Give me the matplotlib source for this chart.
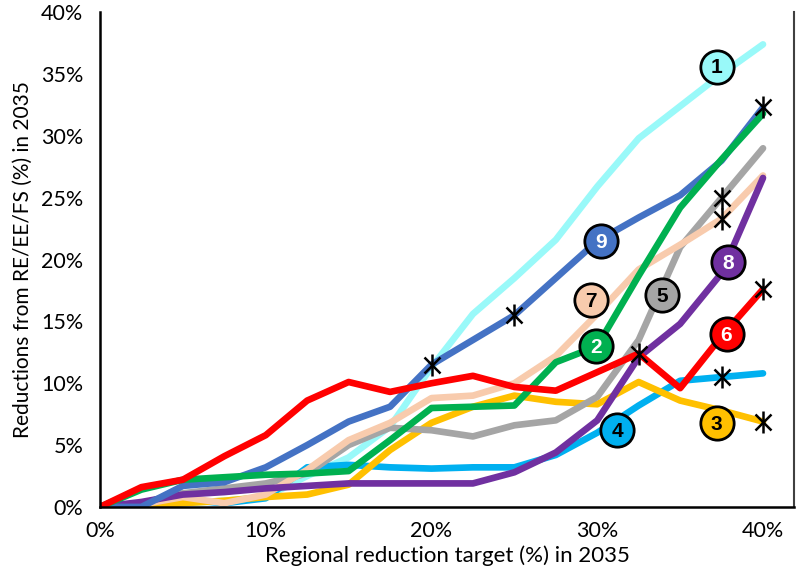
import matplotlib
matplotlib.use("Agg")
import matplotlib.pyplot as plt
from matplotlib.ticker import PercentFormatter, MultipleLocator

plt.rcParams['font.family'] = ['Lato', 'DejaVu Sans']

# --- data (values in %) ---
target = [0, 2.5, 5, 7.5, 10, 12.5, 15, 17.5, 20, 22.5, 25, 27.5, 30, 32.5, 35, 37.5, 40]

s1_cyan   = [0, 0, 0.3, 0.5, 0.8, 2.5, 4.0, 6.5, 11.3, 15.6, 18.5, 21.6, 25.9, 29.8, 32.4, 35.0, 37.4]
s2_green  = [0, 1.4, 2.2, 2.4, 2.6, 2.7, 2.9, 5.4, 8.0, 8.1, 8.2, 11.7, 13.0, 18.7, 24.2, 28.1, 31.8]
s3_yellow = [0, 0, 0.3, 0.5, 0.8, 1.0, 1.8, 4.6, 6.8, 8.1, 9.0, 8.5, 8.3, 10.1, 8.6, 7.8, 6.9]
s4_lblue  = [0, 0.2, 0.6, 0.3, 0.7, 3.2, 3.4, 3.2, 3.1, 3.2, 3.2, 4.2, 6.0, 8.2, 10.2, 10.5, 10.8]
s5_gray   = [0, 0.3, 1.1, 1.5, 1.9, 2.7, 5.0, 6.4, 6.2, 5.7, 6.6, 7.0, 8.9, 13.5, 21.0, 25.0, 29.0]
s6_red    = [0, 1.6, 2.2, 4.1, 5.8, 8.6, 10.1, 9.3, 10.0, 10.6, 9.7, 9.4, 10.9, 12.4, 9.6, 13.8, 17.6]
s7_peach  = [0, 0.2, 0.8, 0.3, 1.0, 3.0, 5.4, 6.8, 8.8, 9.0, 10.0, 12.2, 15.6, 19.2, 21.2, 23.3, 26.8]
s8_purple = [0, 0.4, 1.0, 1.2, 1.5, 1.7, 1.9, 1.9, 1.9, 1.9, 2.8, 4.4, 7.0, 12.1, 14.8, 18.9, 26.6]
s9_blue   = [0, 0, 1.7, 2.0, 3.2, 5.0, 6.9, 8.1, 11.5, 13.5, 15.5, 18.5, 21.5, 23.4, 25.2, 28.0, 32.3]

# drawing order: (name, values, line colour, label text colour)
series = [
    ('1', s1_cyan,   '#99F9F9', 'black'),
    ('4', s4_lblue,  '#00B0F0', 'black'),
    ('3', s3_yellow, '#FFC000', 'black'),
    ('5', s5_gray,   '#A5A5A5', 'black'),
    ('7', s7_peach,  '#F8CBAD', 'black'),
    ('8', s8_purple, '#7030A0', 'white'),
    ('9', s9_blue,   '#4472C4', 'white'),
    ('2', s2_green,  '#00B050', 'white'),
    ('6', s6_red,    '#FF0000', 'white'),
]

# starred points: (series name, target value)
stars = [('9', 20), ('9', 25), ('6', 32.5), ('5', 37.5), ('7', 37.5),
         ('4', 37.5), ('9', 40), ('6', 40), ('3', 40)]

# circle labels: name -> (x %, y %)
label_pos = {'1': (37.2, 35.6), '9': (30.2, 21.5), '7': (29.6, 16.7),
             '5': (33.9, 17.1), '8': (37.9, 19.8), '2': (29.9, 13.0),
             '6': (37.8, 14.0), '4': (31.2, 6.2), '3': (37.2, 6.8)}

fig = plt.figure(figsize=(8, 5.82), dpi=100)
ax = fig.add_axes([0.125, 0.129, 0.8675, 0.850])

lookup = {}
for name, vals, col, tcol in series:
    ax.plot(target, vals, color=col, lw=4.8, solid_capstyle='round',
            solid_joinstyle='round', zorder=2)
    lookup[name] = (vals, col, tcol)

for name, xv in stars:
    yv = lookup[name][0][target.index(xv)]
    ax.plot(xv, yv, marker='x', ms=12, mew=1.8, color='black', zorder=4)
    ax.plot(xv, yv, marker='|', ms=16, mew=1.8, color='black', zorder=4)

for name, (lx, ly) in label_pos.items():
    vals, col, tcol = lookup[name]
    ax.plot(lx, ly, marker='o', ms=24, mfc=col, mec='black', mew=2.0, zorder=5)
    ax.text(lx, ly - 0.1, name, ha='center', va='center', fontsize=15,
            fontweight='bold', color=tcol, family='Liberation Sans', zorder=6)

ax.set_xlim(0, 41.87)
ax.set_ylim(0, 40)
ax.xaxis.set_major_locator(MultipleLocator(10))
ax.yaxis.set_major_locator(MultipleLocator(5))
ax.xaxis.set_major_formatter(PercentFormatter(decimals=0))
ax.yaxis.set_major_formatter(PercentFormatter(decimals=0))
ax.tick_params(length=0, labelsize=15.5, pad=12)
ax.tick_params(axis='x', pad=10)

for s in ['left', 'bottom']:
    ax.spines[s].set_linewidth(1.8)
    ax.spines[s].set_color('black')
ax.spines['right'].set_linewidth(1.5)
ax.spines['right'].set_color('#404040')
ax.spines['top'].set_visible(False)

ax.set_xlabel('Regional reduction target (%) in 2035', fontsize=16, labelpad=3)
ax.set_ylabel('Reductions from RE/EE/FS (%) in 2035', fontsize=15, labelpad=6)

fig.savefig('out.png', dpi=100)
